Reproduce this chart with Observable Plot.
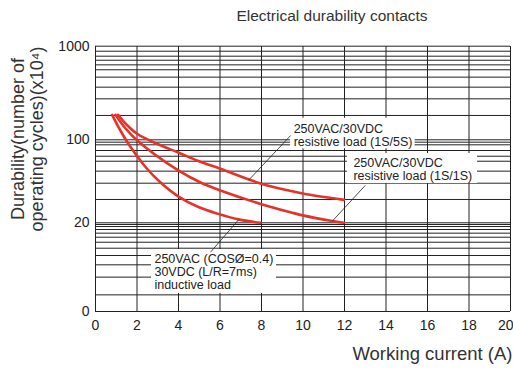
<!DOCTYPE html>
<html>
<head>
<meta charset="utf-8">
<script src="https://cdn.jsdelivr.net/npm/d3@7"></script>
<script src="https://cdn.jsdelivr.net/npm/@observablehq/plot@0.6"></script>
<style>
  html, body { margin: 0; padding: 0; background: #fff; }
</style>
</head>
<body>
<div id="chart"></div>
<script>
// ---- data ----
const titleText = "Electrical durability contacts";
const yLabelText = "Durability(number of\noperating cycles)(x10\u2074)";
const xLabelText = "Working current (A)";

const xTicks = [0, 2, 4, 6, 8, 10, 12, 14, 16, 18, 20];
const yTickValues = [1, 10, 100, 1000];
const yTickLabels = ["0", "20", "100", "1000"];

// horizontal grid lines of the log paper (as drawn)
const hGrid = [1000, 884, 782, 708, 632, 560, 467, 365, 274, 182, 100,
  93.6, 87, 74.3, 63.4, 55.2, 41.9, 30, 19.1, 10,
  9.57, 9.08, 8.4, 7.64, 6.88, 6.04, 5.17, 4.28, 3.36, 2.44, 1.54, 1];

// curves
const resist5X = [1.09, 1.49, 2.02, 2.99, 3.99, 4.96, 6.02, 7.95, 9.40, 10.04, 11.97];
const resist5Y = [185, 145.7, 115.3, 89.0, 70.3, 55.5, 44.7, 29.8, 24.2, 22.4, 18.9];
const resist1X = [0.96, 1.45, 2.01, 3.99, 5.06, 6.02, 7.95, 9.40, 10.04, 11.48, 11.97];
const resist1Y = [185, 132, 98.1, 42.7, 30.6, 24.5, 16.9, 13.4, 12.2, 10.45, 10.0];
const inductX = [0.8, 1.2, 1.59, 2.02, 2.41, 3.08, 4.0, 4.96, 5.88, 6.89, 7.95];
const inductY = [185, 125.7, 89.0, 62.9, 47.0, 31.4, 20.7, 15.5, 12.9, 11.0, 10.0];

// annotations (data coordinates)
const annLabels = [
  "250VAC/30VDC\nresistive load (1S/5S)",
  "250VAC/30VDC\nresistive load (1S/1S)",
  "250VAC (COS\u00D8=0.4)\n30VDC (L/R=7ms)\ninductive load"
];
const annTextX = [9.55, 12.43, 2.84];
const annTextY = [112, 44.5, 2.79];
const annBoxX1 = [9.4, 12.14, 2.7];
const annBoxX2 = [15.4, 18.41, 8.72];
const annBoxY1 = [78, 29.7, 1.6];
const annBoxY2 = [170, 68.4, 5.0];
const leadX1 = [9.4, 13.0, 5.54];
const leadY1 = [111, 28.2, 4.66];
const leadX2 = [7.4, 11.41, 6.9];
const leadY2 = [33, 10.46, 10.9];

// ---- build tables ----
const series = [
  ...resist5X.map((x, i) => ({series: "1S/5S", x, y: resist5Y[i]})),
  ...resist1X.map((x, i) => ({series: "1S/1S", x, y: resist1Y[i]})),
  ...inductX.map((x, i) => ({series: "inductive", x, y: inductY[i]}))
];
const anns = annLabels.map((label, i) => ({
  label, tx: annTextX[i], ty: annTextY[i],
  bx1: annBoxX1[i], bx2: annBoxX2[i], by1: annBoxY1[i], by2: annBoxY2[i],
  lx1: leadX1[i], ly1: leadY1[i], lx2: leadX2[i], ly2: leadY2[i]
}));
const lastX = xTicks[xTicks.length - 1];

const font = "'Liberation Sans', Arial, Helvetica, sans-serif";
const ink = "#222";
const red = "#e63228";

const chart = Plot.plot({
  width: 513,
  height: 372,
  marginLeft: 95,
  marginRight: 3,
  marginTop: 46,
  marginBottom: 61,
  style: {fontFamily: font, fontSize: "14px", color: ink, background: "#fff"},
  x: {domain: [0, 20], range: [95, 510], ticks: xTicks.slice(0, -1), tickSize: 0, tickPadding: 9, label: null},
  y: {type: "log", domain: [1, 10, 100, 1000], range: [311, 222.3, 139.3, 45.7],
      ticks: yTickValues, tickFormat: d => yTickLabels[yTickValues.indexOf(d)],
      tickSize: 0, tickPadding: 6, label: null},
  marks: [
    Plot.ruleY(hGrid, {stroke: ink, strokeWidth: 1}),
    Plot.ruleX(xTicks, {stroke: ink, strokeWidth: 1}),
    Plot.rect(anns, {x1: "bx1", x2: "bx2", y1: "by1", y2: "by2", fill: "#fff"}),
    Plot.line(series, {x: "x", y: "y", z: "series", stroke: red, strokeWidth: 2.6, curve: "catmull-rom"}),
    Plot.link(anns, {x1: "lx1", y1: "ly1", x2: "lx2", y2: "ly2", stroke: ink, strokeWidth: 0.8}),
    Plot.text(anns, {x: "tx", y: "ty", text: "label", textAnchor: "start", lineAnchor: "middle",
      lineHeight: 1.05, fontSize: 12.5, fill: ink}),
    // last x tick label, kept inside the picture like the reference
    Plot.text([lastX], {x: d => d, frameAnchor: "bottom", text: d => String(d), textAnchor: "end",
      dx: 3, dy: 14, lineAnchor: "middle", fontSize: 14, fill: ink}),
    Plot.text([titleText], {frameAnchor: "top", text: d => d, textAnchor: "middle", dx: 29, dy: -30,
      lineAnchor: "middle", fontSize: 15.5, fill: "#333"}),
    Plot.text([yLabelText], {frameAnchor: "left", text: d => d, rotate: -90, textAnchor: "middle",
      dx: -68, dy: -40, lineAnchor: "middle", lineHeight: 1.08, fontSize: 18, fill: "#333"}),
    Plot.text([xLabelText], {frameAnchor: "bottom-right", text: d => d, textAnchor: "end", dx: 2, dy: 43,
      lineAnchor: "middle", fontSize: 18.5, fill: "#333"})
  ]
});
document.getElementById("chart").appendChild(chart);
</script>
</body>
</html>
